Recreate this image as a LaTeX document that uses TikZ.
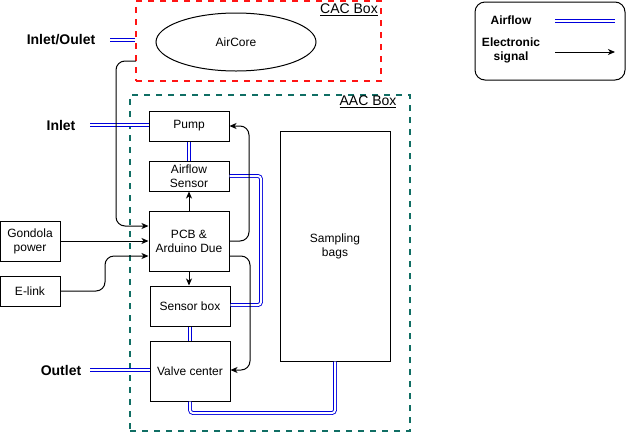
\documentclass[tikz,border=0pt]{standalone}
\usepackage{fontspec}
\setmainfont{Liberation Sans}
\usepackage{xcolor}
\usetikzlibrary{arrows.meta, shapes.geometric, calc}

\definecolor{airblue}{RGB}{0,0,220}
\definecolor{cacred}{RGB}{255,20,20}
\definecolor{aacteal}{RGB}{16,110,100}

\begin{document}
\begin{tikzpicture}[x=1pt, y=-1pt, line width=1pt,
    every node/.style={font=\fontsize{12}{14}\selectfont},
    blk/.style={draw, rectangle, inner sep=0pt, align=center},
    tag/.style={font=\bfseries\fontsize{14}{16}\selectfont},
    legtag/.style={font=\bfseries\fontsize{12}{14}\selectfont, align=center},
    air/.style={draw=airblue, double=white, double distance=2pt, line width=0.9pt},
    sig/.style={-{Stealth[length=7pt, width=6pt, inset=2pt]}, rounded corners=9pt},
    wire/.style={rounded corners=9pt}]
    \useasboundingbox (0,0) rectangle (626,432);

    % outer boxes
    \node[draw=cacred, dash pattern=on 6pt off 6pt, line width=2pt, minimum width=245pt, minimum height=80pt] (cac) at (258.5,41) {};
    \node[draw=aacteal, dash pattern=on 6pt off 6pt, line width=2pt, minimum width=280pt, minimum height=336pt] (aac) at (270,263) {};
    \node (cactag) at (349,10) {\fontsize{14}{16}\selectfont\underline{CAC Box}};
    \node (aactag) at (368,102) {\fontsize{14}{16}\selectfont\underline{AAC Box}};

    % blocks
    \node[draw, ellipse, minimum width=160pt, minimum height=58pt] (aircore) at (236,42) {AirCore};
    \node[blk, minimum width=80pt, minimum height=30pt] (pump) at (189,126) {Pump};
    \node[blk, minimum width=80pt, minimum height=30pt] (airflow) at (189,176) {Airflow\\Sensor};
    \node[blk, minimum width=80pt, minimum height=60pt] (pcb) at (189,241) {PCB \&\\Arduino Due};
    \node[blk, minimum width=80pt, minimum height=40pt] (sensorbox) at (190,306) {Sensor box};
    \node[blk, minimum width=80pt, minimum height=60pt] (valve) at (190,371) {Valve center};
    \node[blk, minimum width=110pt, minimum height=230pt] (bags) at (335,246) {Sampling\\bags};
    \node[blk, minimum width=60pt, minimum height=40pt] (gondola) at (30,241) {Gondola\\power};
    \node[blk, minimum width=60pt, minimum height=30pt] (elink) at (30,291) {E-link};

    % ports
    \node[tag] (ioport) at (61,40) {Inlet/Oulet};
    \node[tag] (inport) at (61,125) {Inlet};
    \node[tag] (outport) at (61,370) {Outlet};
    \coordinate (iostart) at (110,40);
    \coordinate (instart) at (90,125);
    \coordinate (outstart) at (90,370);
    \coordinate (cacout) at (136,61);

    % airflow
    \draw[air] (iostart) -- (cac.west |- iostart);
    \draw[air] (instart) -- (pump.west |- instart);
    \draw[air] (outstart) -- (valve.west |- outstart);
    \draw[air] (pump.south) -- (airflow.north);
    \draw[air] (sensorbox.south) -- (valve.north);
    \draw[air, rounded corners=3pt] (airflow.east) -| (261,305) -- (sensorbox.east |- 0,305);
    \draw[air, rounded corners=3pt] (valve.south) |- (335,413) -- (bags.south);

    % signals
    \draw[sig] (pcb.north) -- (airflow.south);
    \draw[sig] (pcb.south) -- (sensorbox.north -| pcb.south);
    \draw[sig] (gondola.east) -- (pcb.west);
    \draw[sig] (pcb.east) -| (249,126) -- (pump.east);
    \draw[sig] ($(pcb.east)+(0,15)$) -| (250,370) -- (valve.east |- 0,370);
    \draw[sig] (elink.east) -| (105,256) -- ($(pcb.west)+(0,15)$);
    \draw[sig] (cacout) -| (116,226) -- ($(pcb.west)+(0,-15)$);

    % legend
    \node[draw, rounded corners=10pt, minimum width=150pt, minimum height=78pt] (legend) at (550,41) {};
    \node[legtag] (legair) at (511,20) {Airflow};
    \node[legtag] (legsig) at (511,50) {Electronic\\signal};
    \coordinate (legairA) at (555,21);
    \coordinate (legairB) at (615,21);
    \coordinate (legsigA) at (555,52);
    \coordinate (legsigB) at (615,52);
    \draw[air] (legairA) -- (legairB);
    \draw[sig] (legsigA) -- (legsigB);
\end{tikzpicture}
\end{document}
